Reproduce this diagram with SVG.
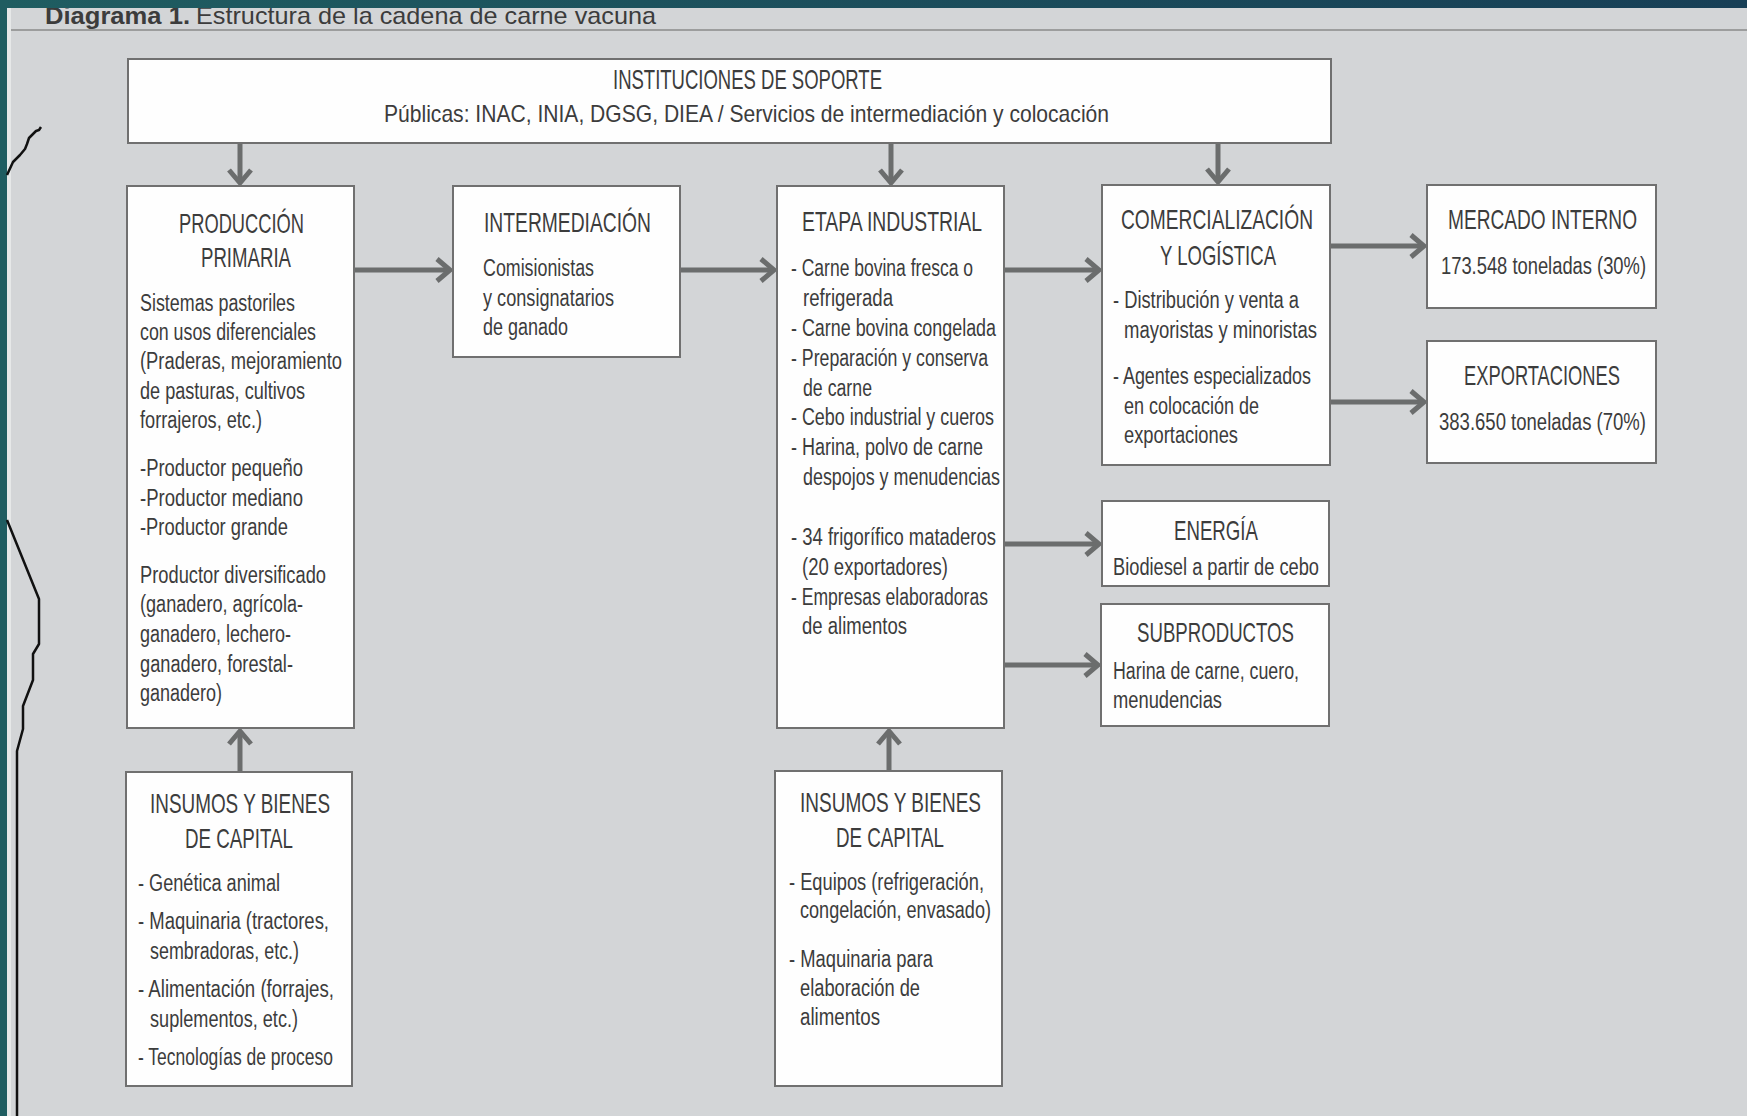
<svg xmlns="http://www.w3.org/2000/svg" width="1747" height="1116" viewBox="0 0 1747 1116">
<defs>
<linearGradient id="band" x1="0" y1="0" x2="1" y2="0">
<stop offset="0" stop-color="#1f5d61"/>
<stop offset="1" stop-color="#173f56"/>
</linearGradient>
<marker id="ah" markerUnits="userSpaceOnUse" orient="auto" overflow="visible" refX="0" refY="0" markerWidth="30" markerHeight="30">
<path d="M-13,-11 L0,0 L-13,11" fill="none" stroke="#6b6d6d" stroke-width="5" stroke-linejoin="miter"/>
</marker>
<style>
.box{fill:#fefefe;stroke:#707070;stroke-width:2}
.t{font-family:"Liberation Sans",Arial,sans-serif;fill:#3c3c3c}
.h{font-size:28px}
.b{font-size:23px}
.conn{stroke:#6b6d6d;stroke-width:5;fill:none;marker-end:url(#ah)}
</style>
</defs>
<rect x="0" y="0" width="1747" height="1116" fill="#d3d5d7"/>
<text class="t" x="45" y="24" font-size="24" font-weight="bold" textLength="145" lengthAdjust="spacingAndGlyphs">Diagrama 1.</text>
<text class="t" x="196" y="24" font-size="24" textLength="460" lengthAdjust="spacingAndGlyphs">Estructura de la cadena de carne vacuna</text>
<line x1="11" y1="30" x2="1747" y2="30" stroke="#8a8a8a" stroke-width="1.5"/>
<rect x="0" y="0" width="1747" height="8" fill="url(#band)"/>
<rect x="0" y="0" width="7" height="1116" fill="#1f5d61"/>
<rect x="7" y="8" width="4" height="1108" fill="#e6e8e8"/>
<g id="handline" fill="none" stroke="#111" stroke-width="2.5" stroke-linejoin="round">
<path d="M41,127 L39,130 L36,131 L33,134 L29,138 L27,144 L25,149 L20,155 L13,162 L7,175"/>
<path d="M7,520 L39,599 L39,644 L33,654 L33,680 L23,706 L23,729 L17,751 L17,1116"/>
</g>
<g id="connectors">
<line class="conn" x1="240" y1="143" x2="240" y2="183"/>
<line class="conn" x1="891" y1="143" x2="891" y2="183"/>
<line class="conn" x1="1218" y1="143" x2="1218" y2="182"/>
<line class="conn" x1="354" y1="270" x2="450" y2="270"/>
<line class="conn" x1="680" y1="270" x2="774" y2="270"/>
<line class="conn" x1="1004" y1="270" x2="1099" y2="270"/>
<line class="conn" x1="1330" y1="246" x2="1424" y2="246"/>
<line class="conn" x1="1330" y1="402" x2="1424" y2="402"/>
<line class="conn" x1="1004" y1="544" x2="1099" y2="544"/>
<line class="conn" x1="1004" y1="665" x2="1098" y2="665"/>
<line class="conn" x1="240" y1="772" x2="240" y2="731"/>
<line class="conn" x1="889" y1="771" x2="889" y2="731"/>
</g>
<g id="instituciones">
<rect class="box" x="128" y="59" width="1203" height="84"/>
<text class="t h" x="613" y="89" textLength="269" lengthAdjust="spacingAndGlyphs">INSTITUCIONES DE SOPORTE</text>
<text class="t" x="384" y="122" font-size="24" textLength="725" lengthAdjust="spacingAndGlyphs">Públicas: INAC, INIA, DGSG, DIEA / Servicios de intermediación y colocación</text>
</g>
<g id="produccion">
<rect class="box" x="127" y="186" width="227" height="542"/>
<text class="t h" x="179" y="233" textLength="125" lengthAdjust="spacingAndGlyphs">PRODUCCIÓN</text>
<text class="t h" x="201" y="267" textLength="90" lengthAdjust="spacingAndGlyphs">PRIMARIA</text>
<text class="t b" x="140" y="311" textLength="155" lengthAdjust="spacingAndGlyphs">Sistemas pastoriles</text>
<text class="t b" x="140" y="340" textLength="176" lengthAdjust="spacingAndGlyphs">con usos diferenciales</text>
<text class="t b" x="140" y="369" textLength="202" lengthAdjust="spacingAndGlyphs">(Praderas, mejoramiento</text>
<text class="t b" x="140" y="399" textLength="165" lengthAdjust="spacingAndGlyphs">de pasturas, cultivos</text>
<text class="t b" x="140" y="428" textLength="122" lengthAdjust="spacingAndGlyphs">forrajeros, etc.)</text>
<text class="t b" x="140" y="476" textLength="163" lengthAdjust="spacingAndGlyphs">-Productor pequeño</text>
<text class="t b" x="140" y="506" textLength="163" lengthAdjust="spacingAndGlyphs">-Productor mediano</text>
<text class="t b" x="140" y="535" textLength="148" lengthAdjust="spacingAndGlyphs">-Productor grande</text>
<text class="t b" x="140" y="583" textLength="186" lengthAdjust="spacingAndGlyphs">Productor diversificado</text>
<text class="t b" x="140" y="612" textLength="163" lengthAdjust="spacingAndGlyphs">(ganadero, agrícola-</text>
<text class="t b" x="140" y="642" textLength="151" lengthAdjust="spacingAndGlyphs">ganadero, lechero-</text>
<text class="t b" x="140" y="672" textLength="153" lengthAdjust="spacingAndGlyphs">ganadero, forestal-</text>
<text class="t b" x="140" y="701" textLength="82" lengthAdjust="spacingAndGlyphs">ganadero)</text>
</g>
<g id="intermediacion">
<rect class="box" x="453" y="186" width="227" height="171"/>
<text class="t h" x="484" y="232" textLength="167" lengthAdjust="spacingAndGlyphs">INTERMEDIACIÓN</text>
<text class="t b" x="483" y="276" textLength="111" lengthAdjust="spacingAndGlyphs">Comisionistas</text>
<text class="t b" x="483" y="306" textLength="131" lengthAdjust="spacingAndGlyphs">y consignatarios</text>
<text class="t b" x="483" y="335" textLength="85" lengthAdjust="spacingAndGlyphs">de ganado</text>
</g>
<g id="etapa-industrial">
<rect class="box" x="777" y="186" width="227" height="542"/>
<text class="t h" x="802" y="231" textLength="180" lengthAdjust="spacingAndGlyphs">ETAPA INDUSTRIAL</text>
<text class="t b" x="791" y="276" textLength="182" lengthAdjust="spacingAndGlyphs">- Carne bovina fresca o</text>
<text class="t b" x="803" y="306" textLength="90" lengthAdjust="spacingAndGlyphs">refrigerada</text>
<text class="t b" x="791" y="336" textLength="205" lengthAdjust="spacingAndGlyphs">- Carne bovina congelada</text>
<text class="t b" x="791" y="366" textLength="197" lengthAdjust="spacingAndGlyphs">- Preparación y conserva</text>
<text class="t b" x="803" y="396" textLength="69" lengthAdjust="spacingAndGlyphs">de carne</text>
<text class="t b" x="791" y="425" textLength="203" lengthAdjust="spacingAndGlyphs">- Cebo industrial y cueros</text>
<text class="t b" x="791" y="455" textLength="192" lengthAdjust="spacingAndGlyphs">- Harina, polvo de carne</text>
<text class="t b" x="803" y="485" textLength="197" lengthAdjust="spacingAndGlyphs">despojos y menudencias</text>
<text class="t b" x="791" y="545" textLength="205" lengthAdjust="spacingAndGlyphs">- 34 frigorífico mataderos</text>
<text class="t b" x="802" y="575" textLength="146" lengthAdjust="spacingAndGlyphs">(20 exportadores)</text>
<text class="t b" x="791" y="605" textLength="197" lengthAdjust="spacingAndGlyphs">- Empresas elaboradoras</text>
<text class="t b" x="802" y="634" textLength="105" lengthAdjust="spacingAndGlyphs">de alimentos</text>
</g>
<g id="comercializacion">
<rect class="box" x="1102" y="185" width="228" height="280"/>
<text class="t h" x="1121" y="229" textLength="192" lengthAdjust="spacingAndGlyphs">COMERCIALIZACIÓN</text>
<text class="t h" x="1160" y="265" textLength="116" lengthAdjust="spacingAndGlyphs">Y LOGÍSTICA</text>
<text class="t b" x="1113" y="308" textLength="186" lengthAdjust="spacingAndGlyphs">- Distribución y venta a</text>
<text class="t b" x="1124" y="338" textLength="193" lengthAdjust="spacingAndGlyphs">mayoristas y minoristas</text>
<text class="t b" x="1113" y="384" textLength="198" lengthAdjust="spacingAndGlyphs">- Agentes especializados</text>
<text class="t b" x="1124" y="414" textLength="135" lengthAdjust="spacingAndGlyphs">en colocación de</text>
<text class="t b" x="1124" y="443" textLength="114" lengthAdjust="spacingAndGlyphs">exportaciones</text>
</g>
<g id="mercado-interno">
<rect class="box" x="1427" y="185" width="229" height="123"/>
<text class="t h" x="1448" y="229" textLength="189" lengthAdjust="spacingAndGlyphs">MERCADO INTERNO</text>
<text class="t b" x="1441" y="274" textLength="205" lengthAdjust="spacingAndGlyphs">173.548 toneladas (30%)</text>
</g>
<g id="exportaciones">
<rect class="box" x="1427" y="341" width="229" height="122"/>
<text class="t h" x="1464" y="385" textLength="156" lengthAdjust="spacingAndGlyphs">EXPORTACIONES</text>
<text class="t b" x="1439" y="430" textLength="207" lengthAdjust="spacingAndGlyphs">383.650 toneladas (70%)</text>
</g>
<g id="energia">
<rect class="box" x="1102" y="501" width="227" height="85"/>
<text class="t h" x="1174" y="540" textLength="84" lengthAdjust="spacingAndGlyphs">ENERGÍA</text>
<text class="t b" x="1113" y="575" textLength="206" lengthAdjust="spacingAndGlyphs">Biodiesel a partir de cebo</text>
</g>
<g id="subproductos">
<rect class="box" x="1101" y="604" width="228" height="122"/>
<text class="t h" x="1137" y="642" textLength="157" lengthAdjust="spacingAndGlyphs">SUBPRODUCTOS</text>
<text class="t b" x="1113" y="679" textLength="186" lengthAdjust="spacingAndGlyphs">Harina de carne, cuero,</text>
<text class="t b" x="1113" y="708" textLength="109" lengthAdjust="spacingAndGlyphs">menudencias</text>
</g>
<g id="insumos-primaria">
<rect class="box" x="126" y="772" width="226" height="314"/>
<text class="t h" x="150" y="813" textLength="180" lengthAdjust="spacingAndGlyphs">INSUMOS Y BIENES</text>
<text class="t h" x="185" y="848" textLength="108" lengthAdjust="spacingAndGlyphs">DE CAPITAL</text>
<text class="t b" x="138" y="891" textLength="142" lengthAdjust="spacingAndGlyphs">- Genética animal</text>
<text class="t b" x="138" y="929" textLength="191" lengthAdjust="spacingAndGlyphs">- Maquinaria (tractores,</text>
<text class="t b" x="150" y="959" textLength="149" lengthAdjust="spacingAndGlyphs">sembradoras, etc.)</text>
<text class="t b" x="138" y="997" textLength="196" lengthAdjust="spacingAndGlyphs">- Alimentación (forrajes,</text>
<text class="t b" x="150" y="1027" textLength="148" lengthAdjust="spacingAndGlyphs">suplementos, etc.)</text>
<text class="t b" x="138" y="1065" textLength="195" lengthAdjust="spacingAndGlyphs">- Tecnologías de proceso</text>
</g>
<g id="insumos-industrial">
<rect class="box" x="775" y="771" width="227" height="315"/>
<text class="t h" x="800" y="812" textLength="181" lengthAdjust="spacingAndGlyphs">INSUMOS Y BIENES</text>
<text class="t h" x="836" y="847" textLength="108" lengthAdjust="spacingAndGlyphs">DE CAPITAL</text>
<text class="t b" x="789" y="890" textLength="195" lengthAdjust="spacingAndGlyphs">- Equipos (refrigeración,</text>
<text class="t b" x="800" y="918" textLength="191" lengthAdjust="spacingAndGlyphs">congelación, envasado)</text>
<text class="t b" x="789" y="967" textLength="144" lengthAdjust="spacingAndGlyphs">- Maquinaria para</text>
<text class="t b" x="800" y="996" textLength="120" lengthAdjust="spacingAndGlyphs">elaboración de</text>
<text class="t b" x="800" y="1025" textLength="80" lengthAdjust="spacingAndGlyphs">alimentos</text>
</g>
</svg>
